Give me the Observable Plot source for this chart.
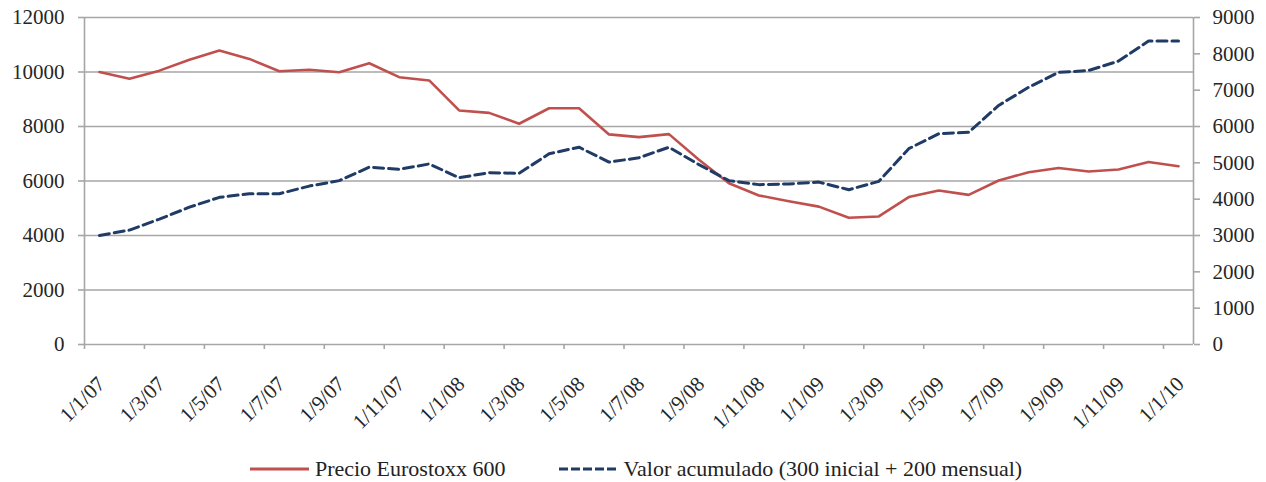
<!DOCTYPE html>
<html>
<head>
<meta charset="utf-8">
<script src="https://cdn.jsdelivr.net/npm/d3@7"></script>
<script src="https://cdn.jsdelivr.net/npm/@observablehq/plot@0.6"></script>
<style>
  html, body { margin: 0; padding: 0; background: #fff; font-family: 'Liberation Serif', serif; }
  #chart svg { display: block; }
  .legend { display: flex; justify-content: center; align-items: center; margin-top: 15px; height: 28px; line-height: 28px;
    font-family: 'Liberation Serif', serif; font-size: 22px; color: #222; padding-left: 6px; }
  .legend .item { display: flex; align-items: center; }
  .legend svg { display: block; margin-right: 6px; }
</style>
</head>
<body>
<div id="chart"></div>
<div class="legend" id="legend"></div>
<script>
// Month labels (day/month/year), one per data point
const months = [
  "1/1/07","1/2/07","1/3/07","1/4/07","1/5/07","1/6/07","1/7/07","1/8/07","1/9/07","1/10/07","1/11/07","1/12/07",
  "1/1/08","1/2/08","1/3/08","1/4/08","1/5/08","1/6/08","1/7/08","1/8/08","1/9/08","1/10/08","1/11/08","1/12/08",
  "1/1/09","1/2/09","1/3/09","1/4/09","1/5/09","1/6/09","1/7/09","1/8/09","1/9/09","1/10/09","1/11/09","1/12/09",
  "1/1/10"
];
// Precio Eurostoxx 600 (left axis)
const precio = [
  10000, 9750, 10050, 10450, 10790, 10480, 10030, 10080, 9990, 10320, 9810, 9690,
  8590, 8500, 8100, 8670, 8670, 7710, 7610, 7720, 6780, 5920, 5470, 5260,
  5060, 4650, 4700, 5410, 5650, 5490, 6020, 6320, 6480, 6350, 6420, 6700,
  6540
];
// Valor acumulado (right axis)
const valor = [
  3000, 3150, 3450, 3780, 4050, 4150, 4150, 4360, 4510, 4880, 4820, 4970,
  4590, 4730, 4710, 5250, 5430, 5020, 5140, 5430, 4950, 4510, 4400, 4420,
  4470, 4260, 4490, 5390, 5800, 5840, 6580, 7080, 7490, 7540, 7800, 8350,
  8350
];
const leftTicks = [0, 2000, 4000, 6000, 8000, 10000, 12000];
const rightTicks = [0, 1000, 2000, 3000, 4000, 5000, 6000, 7000, 8000, 9000];
const seriesNames = ["Precio Eurostoxx 600", "Valor acumulado (300 inicial + 200 mensual)"];
const colors = ["#c0504d", "#1f3b66"];

const k = 12000 / 9000;
const data = months.map((m, i) => ({ i, label: m, precio: precio[i], valor: valor[i] }));
const labelData = data.filter(d => d.i % 2 === 0);
const boundaries = months.map((m, i) => i - 0.5).filter((b, j) => j % 2 === 0);
const gray = "#a6a6a6";
const ink = "#262626";

const chart = Plot.plot({
  width: 1266,
  height: 440,
  marginLeft: 84,
  marginRight: 73,
  marginTop: 17,
  marginBottom: 96,
  x: { type: "linear", domain: [-0.5, months.length - 0.5] },
  y: { domain: [0, 12000] },
  style: "font-family: 'Liberation Serif', serif; font-size: 21px; color: #262626; background: #fff;",
  marks: [
    Plot.gridY(leftTicks, { stroke: gray, strokeOpacity: 1, strokeWidth: 1.6 }),
    Plot.ruleX([-0.5, months.length - 0.5], { stroke: gray, strokeWidth: 1.6 }),
    Plot.axisY(leftTicks, { anchor: "left", tickSize: 6, tickPadding: 14, stroke: gray, strokeWidth: 1.6, fill: ink,
      fontSize: 21, tickFormat: d => String(d), label: null }),
    Plot.axisY(rightTicks.map(v => v * k), { anchor: "right", tickSize: 6, tickPadding: 13, stroke: gray, strokeWidth: 1.6, fill: ink,
      fontSize: 21, tickFormat: d => String(Math.round(d / k)), label: null }),
    Plot.axisX(boundaries, { anchor: "bottom", tickSize: 5, stroke: gray, strokeWidth: 1.6, tickFormat: () => "", label: null }),
    Plot.text(labelData, { x: "i", y: () => 0, text: "label", rotate: -45, textAnchor: "end", lineAnchor: "middle",
      dx: 2, dy: 36, fontSize: 21, fill: ink }),
    Plot.lineY(data, { x: "i", y: "precio", stroke: colors[0], strokeWidth: 2.6 }),
    Plot.lineY(data, { x: "i", y: d => d.valor * k, stroke: colors[1], strokeWidth: 3, strokeDasharray: "10,5" })
  ]
});
document.getElementById("chart").appendChild(chart);

const legend = document.getElementById("legend");
seriesNames.forEach((name, j) => {
  const item = document.createElement("div");
  item.className = "item";
  item.style.marginRight = j === 0 ? "53px" : "0";
  item.innerHTML = `<svg width="59" height="10"><line x1="0" x2="59" y1="5" y2="5" stroke="${colors[j]}" stroke-width="3" ${j === 1 ? 'stroke-dasharray="9,3"' : ''}/></svg><span>${name}</span>`;
  legend.appendChild(item);
});
</script>
</body>
</html>
